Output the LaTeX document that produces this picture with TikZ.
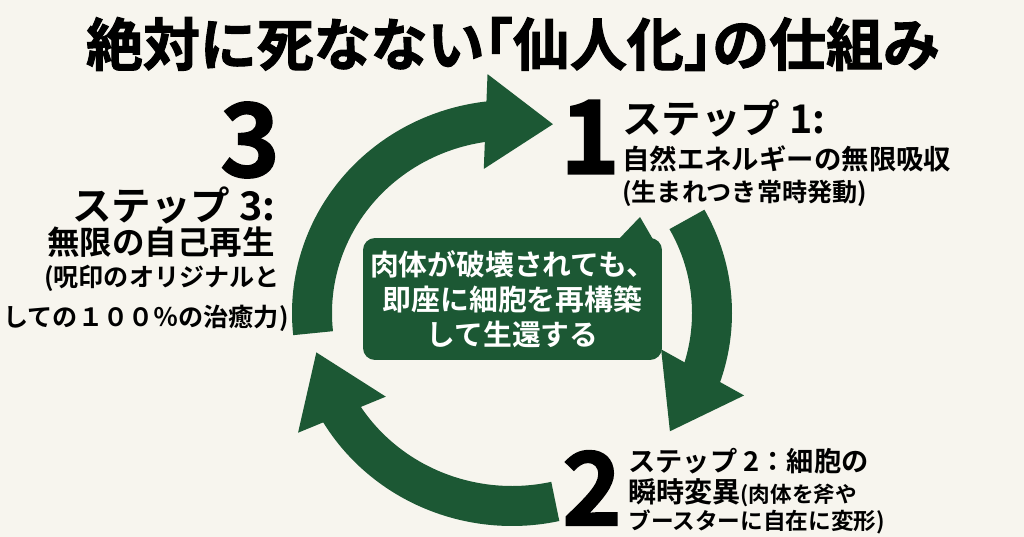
\documentclass[tikz,border=0pt]{standalone}
\usepackage{fontspec}
\setmainfont{Noto Sans CJK JP}[BoldFont={Noto Sans CJK JP Bold}]
\newfontfamily\heavyfont{Noto Sans CJK JP Bold}[FakeBold=1.5]
\newfontfamily\titlefont{Noto Sans CJK JP Bold}[FakeBold=1.8, RawFeature=+halt]
\usetikzlibrary{arrows.meta,bending,calc,positioning}
\definecolor{sennin}{RGB}{28,88,52}
\definecolor{paper}{RGB}{247,245,238}

\begin{document}
\begin{tikzpicture}[x=0.02cm, y=-0.02cm,
  cyc/.style={draw=sennin, line width=0.8cm,
              -{Triangle[flex, width=1.8cm, length=1.36cm]}},
  bubble/.style={fill=sennin, rounded corners=0.24cm, text=white, align=center,
                 minimum width=5.98cm, minimum height=2.44cm, inner sep=0pt,
                 font=\bfseries\fontsize{16.4}{19.8}\selectfont},
  num/.style={inner sep=0pt, font=\heavyfont\fontsize{58}{58}\selectfont},
  lbl/.style={inner sep=0pt, anchor=west},
  mid/.style={inner sep=0pt}
]
\useasboundingbox (0,0) rectangle (1024,537);
\fill[paper] (0,0) rectangle (1024,537);

% title
\node[mid, font=\titlefont\fontsize{32.4}{38}\selectfont] (ttl) at (513,44)
  {絶対に死なない「仙人化」の仕組み};

% cycle arrows
\coordinate (ctr) at (512,313);
\draw[cyc] ($(ctr)+(174:200 and 193)$)
  arc[start angle=174, end angle=282, x radius=200, y radius=193];
\draw[cyc] ($(ctr)+(331:200 and 193)$)
  arc[start angle=331, end angle=398, x radius=200, y radius=193];
\draw[cyc] ($(ctr)+(77.5:200 and 193)$)
  arc[start angle=77.5, end angle=168.4, x radius=200, y radius=193];

% centre bubble
\node[bubble] (msg) at (512.5,299)
  {肉体が破壊されても、\\即座に細胞を再構築\\して生還する};
\coordinate (tailtip) at (640,217);
\fill[sennin] ($(msg.north east)+(-44,2)$) -- (tailtip)
  -- ($(msg.north east)+(-1,16)$) -- cycle;

% step 1
\node[num] (n1) at (590,137) {1};
\node[lbl, font=\bfseries\fontsize{22.5}{26}\selectfont] (s1a) at (622,118) {ステップ 1:};
\node[lbl, font=\bfseries\fontsize{15.6}{18}\selectfont] (s1b) at (622,159) {自然エネルギーの無限吸収};
\node[lbl, font=\bfseries\fontsize{14.3}{17}\selectfont] (s1c) at (622,193) {(生まれつき常時発動)};

% step 2
\node[num] (n2) at (592,488) {2};
\node[lbl, font=\bfseries\fontsize{15.5}{18}\selectfont] (s2a) at (628,461) {ステップ 2：細胞の};
\node[lbl, font=\bfseries] (s2b) at (628,493)
  {{\fontsize{16}{18}\selectfont 瞬時変異}{\fontsize{12.3}{14}\selectfont (肉体を斧や}};
\node[lbl, font=\bfseries\fontsize{12.9}{15}\selectfont] (s2c) at (628,522) {ブースターに自在に変形)};

% step 3
\node[num] (n3) at (250,140) {3};
\node[mid, font=\bfseries\fontsize{22.5}{26}\selectfont] (s3a) at (174,205) {ステップ 3:};
\node[mid, font=\bfseries\fontsize{18.5}{21}\selectfont] (s3b) at (161,242) {無限の自己再生};
\node[mid, font=\bfseries\fontsize{14.3}{17}\selectfont] (s3c) at (162,278) {(呪印のオリジナルと};
\node[mid, font=\bfseries\fontsize{14.3}{17}\selectfont] (s3d) at (146,318) {しての１００％の治癒力)};
\end{tikzpicture}
\end{document}
